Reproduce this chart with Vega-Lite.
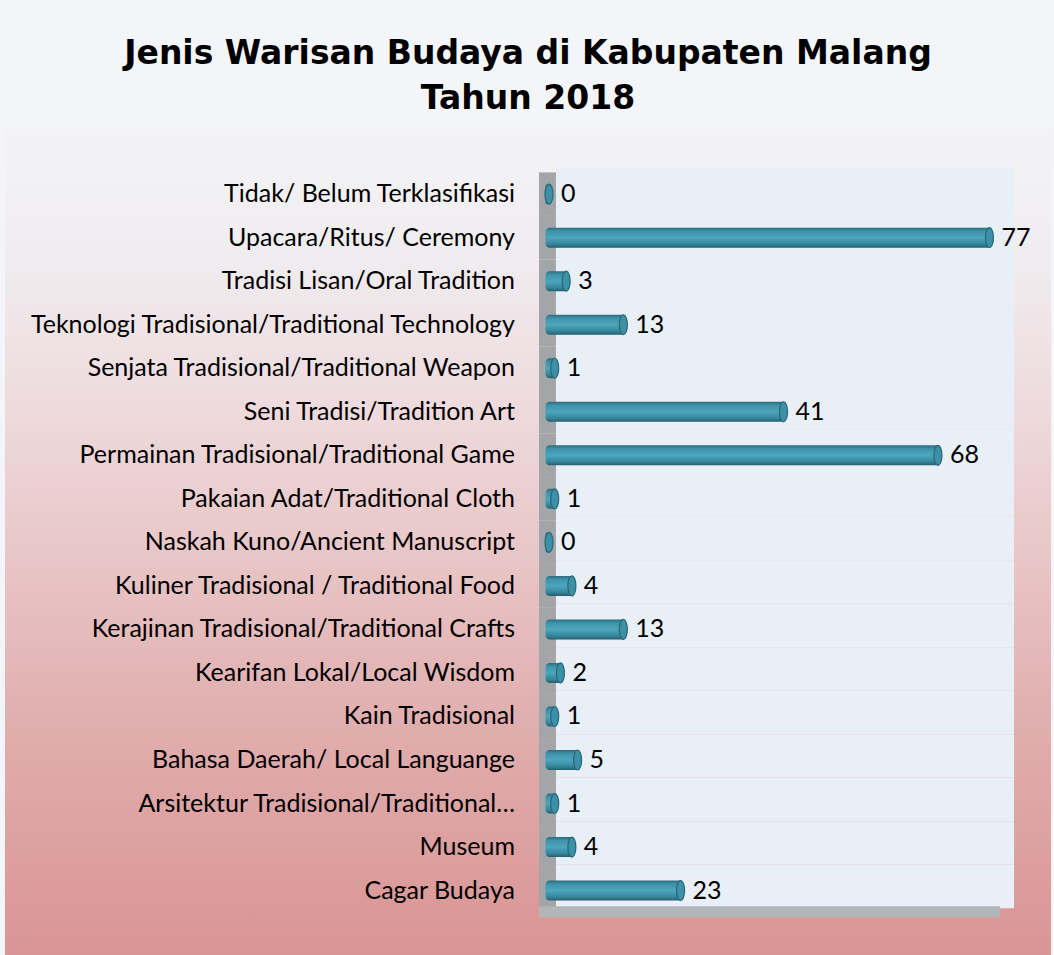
{
  "$schema": "https://vega.github.io/schema/vega-lite/v6.json",
  "width": 1054,
  "height": 955,
  "autosize": {"type": "fit", "contains": "padding"},
  "padding": {"left": 5, "top": 38, "right": 3, "bottom": 0},
  "background": "#F4F5F8",
  "config": {
    "view": {
      "stroke": null,
      "fill": {
        "gradient": "linear", "x1": 0, "y1": 0, "x2": 0, "y2": 1,
        "stops": [
          {"offset": 0, "color": "#F3F3F6"},
          {"offset": 0.148, "color": "#F0EDF0"},
          {"offset": 0.341, "color": "#EEDADC"},
          {"offset": 0.534, "color": "#E8C4C5"},
          {"offset": 0.728, "color": "#E0ADAD"},
          {"offset": 1, "color": "#D99594"}
        ]
      }
    }
  },
  "title": {
    "text": ["Jenis Warisan Budaya di Kabupaten Malang", "Tahun 2018"],
    "font": "DejaVu Sans",
    "fontWeight": "bold",
    "fontSize": 33,
    "lineHeight": 45,
    "color": "#000000",
    "anchor": "middle",
    "frame": "group",
    "offset": 12
  },
  "data": {
    "values": [
      {"jenis": "Tidak/ Belum Terklasifikasi", "jumlah": 0},
      {"jenis": "Upacara/Ritus/ Ceremony", "jumlah": 77},
      {"jenis": "Tradisi Lisan/Oral Tradition", "jumlah": 3},
      {"jenis": "Teknologi Tradisional/Traditional Technology", "jumlah": 13},
      {"jenis": "Senjata Tradisional/Traditional Weapon", "jumlah": 1},
      {"jenis": "Seni Tradisi/Tradition Art", "jumlah": 41},
      {"jenis": "Permainan Tradisional/Traditional Game", "jumlah": 68},
      {"jenis": "Pakaian Adat/Traditional Cloth", "jumlah": 1},
      {"jenis": "Naskah Kuno/Ancient Manuscript", "jumlah": 0},
      {"jenis": "Kuliner Tradisional / Traditional Food", "jumlah": 4},
      {"jenis": "Kerajinan Tradisional/Traditional Crafts", "jumlah": 13},
      {"jenis": "Kearifan Lokal/Local Wisdom", "jumlah": 2},
      {"jenis": "Kain Tradisional", "jumlah": 1},
      {"jenis": "Bahasa Daerah/ Local Languange", "jumlah": 5},
      {"jenis": "Arsitektur Tradisional/Traditional…", "jumlah": 1},
      {"jenis": "Museum", "jumlah": 4},
      {"jenis": "Cagar Budaya", "jumlah": 23}
    ]
  },
  "encoding": {
    "y": {
      "field": "jenis",
      "type": "nominal",
      "sort": null,
      "axis": null,
      "scale": {
        "domain": [
          "Tidak/ Belum Terklasifikasi",
          "Upacara/Ritus/ Ceremony",
          "Tradisi Lisan/Oral Tradition",
          "Teknologi Tradisional/Traditional Technology",
          "Senjata Tradisional/Traditional Weapon",
          "Seni Tradisi/Tradition Art",
          "Permainan Tradisional/Traditional Game",
          "Pakaian Adat/Traditional Cloth",
          "Naskah Kuno/Ancient Manuscript",
          "Kuliner Tradisional / Traditional Food",
          "Kerajinan Tradisional/Traditional Crafts",
          "Kearifan Lokal/Local Wisdom",
          "Kain Tradisional",
          "Bahasa Daerah/ Local Languange",
          "Arsitektur Tradisional/Traditional…",
          "Museum",
          "Cagar Budaya"
        ],
        "paddingInner": 0,
        "paddingOuter": 1,
        "align": 0.51
      }
    }
  },
  "layer": [
    {
      "mark": {"type": "rect", "fill": "#A4A5A8"},
      "encoding": {
        "x": {"datum": -1.75, "type": "quantitative", "axis": null, "scale": {"domain": [-95.1, 87.76], "nice": false, "zero": false}},
        "x2": {"datum": 1.22}
      }
    },
    {
      "mark": {"type": "rect", "fill": "#E8EFF6", "yOffset": -4},
      "encoding": {
        "x": {"datum": 1.22, "type": "quantitative"},
        "x2": {"datum": 81.3}
      }
    },
    {
      "transform": [{"filter": "datum.jenis === 'Cagar Budaya'"}],
      "mark": {"type": "rule", "stroke": "#B2B6B9", "strokeWidth": 11, "yOffset": -0.5},
      "encoding": {
        "x": {"datum": -1.75, "type": "quantitative"},
        "x2": {"datum": 78.85},
        "y": {"field": "jenis", "type": "nominal", "bandPosition": 1}
      }
    },
    {
      "mark": {
        "type": "bar",
        "height": {"band": 0.46},
        "cornerRadiusTopLeft": 4,
        "cornerRadiusBottomLeft": 4,
        "fill": {
          "gradient": "linear", "x1": 0, "y1": 0, "x2": 0, "y2": 1,
          "stops": [
            {"offset": 0, "color": "#2B6C7D"},
            {"offset": 0.18, "color": "#3F93AA"},
            {"offset": 0.5, "color": "#4BA6BE"},
            {"offset": 0.82, "color": "#36869B"},
            {"offset": 1, "color": "#245E6D"}
          ]
        }
      },
      "encoding": {
        "x": {"field": "jumlah", "type": "quantitative"},
        "x2": {"datum": -0.6}
      }
    },
    {
      "mark": {
        "type": "point",
        "shape": "M0,-1A0.4,1,0,1,1,0,1A0.4,1,0,1,1,0,-1Z",
        "size": 400,
        "filled": true,
        "fill": "#3C90A7",
        "stroke": "#2A6777",
        "strokeWidth": 1.2,
        "opacity": 1
      },
      "encoding": {
        "x": {"field": "jumlah", "type": "quantitative"}
      }
    },
    {
      "mark": {"type": "text", "align": "left", "baseline": "middle", "dx": 12, "font": "Lato", "fontSize": 25, "fill": "#000000"},
      "encoding": {
        "x": {"field": "jumlah", "type": "quantitative"},
        "text": {"field": "jumlah", "type": "quantitative"}
      }
    },
    {
      "mark": {"type": "text", "align": "right", "baseline": "middle", "dx": -34, "font": "Lato", "fontSize": 25, "fill": "#000000"},
      "encoding": {
        "x": {"datum": 0, "type": "quantitative"},
        "text": {"field": "jenis", "type": "nominal"}
      }
    }
  ]
}
